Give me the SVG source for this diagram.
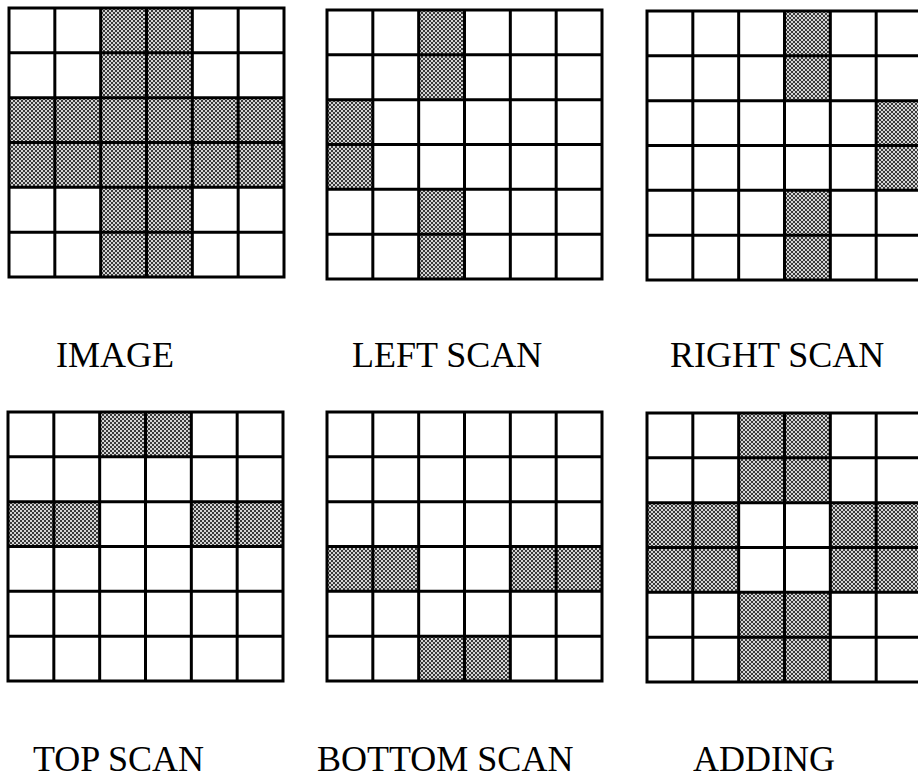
<svg xmlns="http://www.w3.org/2000/svg" xmlns:xlink="http://www.w3.org/1999/xlink" width="918" height="778" viewBox="0 0 918 778">
<style>
.s{fill:url(#dots);}
.lines{fill:none;stroke:#000;stroke-width:3;stroke-linecap:square;}
.lbl{font-family:"Liberation Serif","Times New Roman",serif;font-size:36px;fill:#000;}
</style>
<defs>
<pattern id="dots" width="4" height="4" patternUnits="userSpaceOnUse">
<rect width="4" height="4" fill="#d4d4d4"/>
<rect width="2" height="2" fill="#3a3a3a"/>
<rect x="2" y="2" width="2" height="2" fill="#3a3a3a"/>
</pattern>
<path id="grid" class="lines" d="M0 0H275V269H0Z M45.83 0V269 M91.67 0V269 M137.5 0V269 M183.33 0V269 M229.17 0V269 M0 44.83H275 M0 89.67H275 M0 134.5H275 M0 179.33H275 M0 224.17H275"/>
</defs>
<rect width="918" height="778" fill="#fff"/>

<g id="image" transform="translate(9,8)">
<rect class="s" x="91.67" y="0" width="91.66" height="89.67"/>
<rect class="s" x="0" y="89.67" width="275" height="89.66"/>
<rect class="s" x="91.67" y="179.33" width="91.66" height="89.67"/>
<use xlink:href="#grid" href="#grid"/>
</g>

<g id="left-scan" transform="translate(327,10)">
<rect class="s" x="91.67" y="0" width="45.83" height="89.67"/>
<rect class="s" x="0" y="89.67" width="45.83" height="89.66"/>
<rect class="s" x="91.67" y="179.33" width="45.83" height="89.67"/>
<use xlink:href="#grid" href="#grid"/>
</g>

<g id="right-scan" transform="translate(647,11)">
<rect class="s" x="137.5" y="0" width="45.83" height="89.67"/>
<rect class="s" x="229.17" y="89.67" width="45.83" height="89.66"/>
<rect class="s" x="137.5" y="179.33" width="45.83" height="89.67"/>
<use xlink:href="#grid" href="#grid"/>
</g>

<g id="top-scan" transform="translate(8,412)">
<rect class="s" x="91.67" y="0" width="91.66" height="44.83"/>
<rect class="s" x="0" y="89.67" width="91.67" height="44.83"/>
<rect class="s" x="183.33" y="89.67" width="91.67" height="44.83"/>
<use xlink:href="#grid" href="#grid"/>
</g>

<g id="bottom-scan" transform="translate(327,412)">
<rect class="s" x="0" y="134.5" width="91.67" height="44.83"/>
<rect class="s" x="183.33" y="134.5" width="91.67" height="44.83"/>
<rect class="s" x="91.67" y="224.17" width="91.66" height="44.83"/>
<use xlink:href="#grid" href="#grid"/>
</g>

<g id="adding" transform="translate(647,413)">
<rect class="s" x="91.67" y="0" width="91.66" height="89.67"/>
<rect class="s" x="0" y="89.67" width="91.67" height="89.66"/>
<rect class="s" x="183.33" y="89.67" width="91.67" height="89.66"/>
<rect class="s" x="91.67" y="179.33" width="91.66" height="89.67"/>
<use xlink:href="#grid" href="#grid"/>
</g>

<g id="labels">
<text class="lbl" x="56" y="367">IMAGE</text>
<text class="lbl" x="352" y="367">LEFT SCAN</text>
<text class="lbl" x="670" y="367">RIGHT SCAN</text>
<text class="lbl" x="33" y="771">TOP SCAN</text>
<text class="lbl" x="317" y="771">BOTTOM SCAN</text>
<text class="lbl" x="693" y="771">ADDING</text>
</g>
</svg>
